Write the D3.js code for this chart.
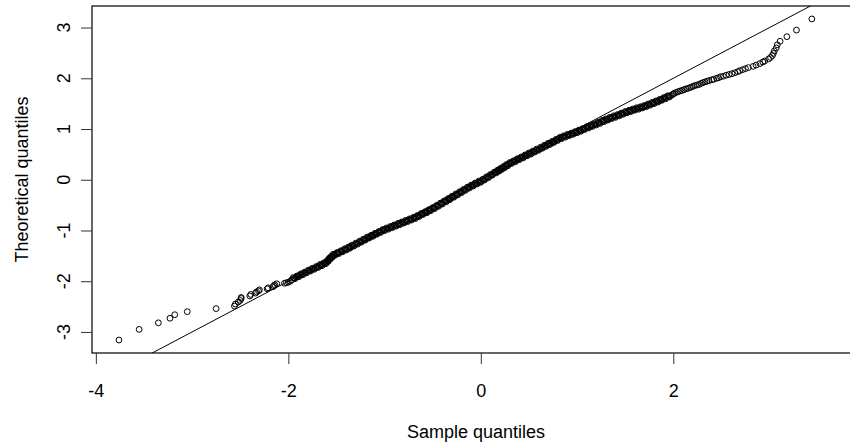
<!DOCTYPE html>
<html>
<head>
<meta charset="utf-8">
<script src="https://cdn.jsdelivr.net/npm/d3@7"></script>
<style>
  body { margin: 0; background: #fff; }
  text { font-family: "Liberation Sans", Arial, sans-serif; }
</style>
</head>
<body>
<div id="main"></div>
<script>
// tick labels
var xTicks = [-4, -2, 0, 2];
var yTicks = [-3, -2, -1, 0, 1, 2, 3];

// [sample quantile, theoretical quantile]
var lowerTail = [
  [-3.76,-3.16],[-3.55,-2.95],[-3.35,-2.82],[-3.23,-2.73],[-3.18,-2.66],[-3.05,-2.60],
  [-2.75,-2.54],[-2.56,-2.49],[-2.55,-2.45],[-2.52,-2.41],[-2.50,-2.38],[-2.49,-2.34],
  [-2.49,-2.32],[-2.40,-2.29],[-2.39,-2.26],[-2.34,-2.235],[-2.33,-2.21],[-2.31,-2.19],
  [-2.30,-2.17],[-2.22,-2.15],[-2.21,-2.13],[-2.16,-2.11],[-2.15,-2.09],[-2.14,-2.07],
  [-2.12,-2.05],[-2.04,-2.04],[-2.02,-2.03],[-2.00,-2.02],[-1.98,-2.00],[-1.965,-1.975]
];

// dense middle part, two interleaved runs of points
var bodyA = [
  [-1.94,-1.94],[-1.92,-1.92],[-1.90,-1.905],[-1.88,-1.88],[-1.86,-1.865],[-1.84,-1.845],
  [-1.82,-1.83],[-1.80,-1.805],[-1.78,-1.79],[-1.76,-1.77],[-1.74,-1.755],[-1.72,-1.735],
  [-1.70,-1.72],[-1.68,-1.70],[-1.66,-1.68],[-1.64,-1.665],[-1.62,-1.645],[-1.60,-1.625],
  [-1.59,-1.60],[-1.58,-1.578],[-1.57,-1.555],[-1.56,-1.537],[-1.55,-1.52],[-1.54,-1.50],
  [-1.525,-1.48],[-1.505,-1.46],[-1.485,-1.445],[-1.465,-1.425],[-1.445,-1.41],[-1.425,-1.39],
  [-1.405,-1.37],[-1.385,-1.355],[-1.365,-1.335],[-1.35,-1.32],[-1.33,-1.30],[-1.31,-1.28],
  [-1.29,-1.26],[-1.27,-1.24],[-1.25,-1.22],[-1.23,-1.20],[-1.21,-1.18],[-1.19,-1.16],
  [-1.17,-1.14],[-1.15,-1.12],[-1.13,-1.105],[-1.11,-1.085],[-1.09,-1.065],[-1.07,-1.045],
  [-1.05,-1.03],[-1.03,-1.01],[-1.01,-0.99],[-0.99,-0.978],[-0.97,-0.962],[-0.95,-0.948],
  [-0.93,-0.932],[-0.91,-0.918],[-0.89,-0.902],[-0.87,-0.888],[-0.85,-0.872],[-0.83,-0.858],
  [-0.81,-0.842],[-0.79,-0.828],[-0.77,-0.812],[-0.75,-0.798],[-0.73,-0.782],[-0.71,-0.768],
  [-0.69,-0.752],[-0.67,-0.735],[-0.65,-0.715],[-0.63,-0.695],[-0.61,-0.675],[-0.59,-0.657],
  [-0.57,-0.64],[-0.55,-0.62],[-0.53,-0.60],[-0.51,-0.58],[-0.49,-0.56],[-0.47,-0.538],
  [-0.45,-0.515],[-0.43,-0.493],[-0.41,-0.47],[-0.39,-0.448],[-0.37,-0.425],[-0.35,-0.403],
  [-0.33,-0.38],[-0.31,-0.358],[-0.29,-0.335],[-0.27,-0.313],[-0.25,-0.29],[-0.23,-0.268],
  [-0.21,-0.245],[-0.19,-0.222],[-0.17,-0.20],[-0.15,-0.178],[-0.13,-0.155],[-0.11,-0.135],
  [-0.09,-0.115],[-0.07,-0.095],[-0.05,-0.075],[-0.03,-0.055],[-0.01,-0.038],[0.01,-0.02],
  [0.03,0.003],[0.05,0.028],[0.07,0.05],[0.09,0.073],[0.11,0.098],[0.13,0.12],
  [0.15,0.143],[0.168,0.163],[0.183,0.18],[0.198,0.198],[0.213,0.215],[0.228,0.232],
  [0.243,0.25],[0.258,0.27],[0.273,0.288],[0.29,0.307],[0.31,0.33],[0.33,0.348],
  [0.35,0.365],[0.37,0.385],[0.39,0.405],[0.41,0.423],[0.43,0.44],[0.45,0.46],
  [0.47,0.48],[0.49,0.50],[0.51,0.518],[0.53,0.535],[0.55,0.555],[0.57,0.575],
  [0.59,0.593],[0.61,0.61],[0.63,0.63],[0.65,0.65],[0.67,0.67],[0.69,0.69],
  [0.71,0.708],[0.73,0.725],[0.75,0.745],[0.77,0.765],[0.79,0.785],[0.81,0.805],
  [0.83,0.823],[0.85,0.838],[0.87,0.853],[0.89,0.868],[0.91,0.883],[0.93,0.895],
  [0.95,0.908],[0.97,0.923],[0.99,0.938],[1.01,0.953],[1.03,0.968],[1.05,0.983],
  [1.07,1.00],[1.09,1.018],[1.11,1.033],[1.13,1.048],[1.15,1.063],[1.17,1.078],
  [1.19,1.093],[1.21,1.108],[1.23,1.123],[1.25,1.14],[1.27,1.158],[1.29,1.173],
  [1.31,1.188],[1.33,1.203],[1.35,1.218],[1.37,1.233],[1.39,1.245],[1.41,1.258],
  [1.43,1.273],[1.45,1.288],[1.47,1.303],[1.49,1.318],[1.51,1.333],[1.53,1.345],
  [1.55,1.358],[1.57,1.37],[1.59,1.383],[1.61,1.395],[1.63,1.405],[1.65,1.415],
  [1.67,1.428],[1.69,1.44],[1.71,1.453],[1.73,1.468],[1.75,1.483],[1.77,1.498],
  [1.79,1.513],[1.81,1.528],[1.83,1.543],[1.85,1.558],[1.87,1.575],[1.89,1.593],
  [1.91,1.608],[1.93,1.625],[1.95,1.643],[1.97,1.66]
];

var bodyB = [
  [-1.95,-1.93],[-1.93,-1.95],[-1.91,-1.895],[-1.89,-1.91],[-1.87,-1.855],[-1.85,-1.875],
  [-1.83,-1.82],[-1.81,-1.835],[-1.79,-1.78],[-1.77,-1.80],[-1.75,-1.745],[-1.73,-1.765],
  [-1.71,-1.71],[-1.69,-1.73],[-1.67,-1.67],[-1.65,-1.695],[-1.63,-1.635],[-1.61,-1.655],
  [-1.595,-1.59],[-1.585,-1.61],[-1.575,-1.545],[-1.565,-1.565],[-1.555,-1.51],[-1.545,-1.53],
  [-1.535,-1.47],[-1.515,-1.49],[-1.495,-1.435],[-1.475,-1.455],[-1.455,-1.40],[-1.435,-1.42],
  [-1.415,-1.36],[-1.395,-1.385],[-1.375,-1.325],[-1.36,-1.35],[-1.34,-1.29],[-1.32,-1.31],
  [-1.30,-1.25],[-1.28,-1.27],[-1.26,-1.21],[-1.24,-1.23],[-1.22,-1.17],[-1.20,-1.19],
  [-1.18,-1.13],[-1.16,-1.15],[-1.14,-1.095],[-1.12,-1.115],[-1.10,-1.055],[-1.08,-1.075],
  [-1.06,-1.02],[-1.04,-1.04],[-1.02,-0.98],[-1.00,-1.005],[-0.98,-0.95],[-0.96,-0.975],
  [-0.94,-0.92],[-0.92,-0.945],[-0.90,-0.89],[-0.88,-0.915],[-0.86,-0.86],[-0.84,-0.885],
  [-0.82,-0.83],[-0.80,-0.855],[-0.78,-0.80],[-0.76,-0.825],[-0.74,-0.77],[-0.72,-0.795],
  [-0.70,-0.74],[-0.68,-0.765],[-0.66,-0.705],[-0.64,-0.725],[-0.62,-0.665],[-0.60,-0.685],
  [-0.58,-0.63],[-0.56,-0.65],[-0.54,-0.59],[-0.52,-0.61],[-0.50,-0.55],[-0.48,-0.57],
  [-0.46,-0.505],[-0.44,-0.525],[-0.42,-0.46],[-0.40,-0.48],[-0.38,-0.415],[-0.36,-0.435],
  [-0.34,-0.37],[-0.32,-0.39],[-0.30,-0.325],[-0.28,-0.345],[-0.26,-0.28],[-0.24,-0.30],
  [-0.22,-0.235],[-0.20,-0.255],[-0.18,-0.19],[-0.16,-0.21],[-0.14,-0.145],[-0.12,-0.165],
  [-0.10,-0.105],[-0.08,-0.125],[-0.06,-0.065],[-0.04,-0.085],[-0.02,-0.025],[0.00,-0.05],
  [0.02,0.01],[0.04,-0.005],[0.06,0.06],[0.08,0.04],[0.10,0.105],[0.12,0.09],
  [0.14,0.15],[0.16,0.135],[0.175,0.19],[0.19,0.17],[0.205,0.225],[0.22,0.205],
  [0.235,0.26],[0.25,0.24],[0.265,0.30],[0.28,0.275],[0.30,0.34],[0.32,0.32],
  [0.34,0.375],[0.36,0.355],[0.38,0.415],[0.40,0.395],[0.42,0.45],[0.44,0.43],
  [0.46,0.49],[0.48,0.47],[0.50,0.53],[0.52,0.505],[0.54,0.565],[0.56,0.545],
  [0.58,0.605],[0.60,0.58],[0.62,0.64],[0.64,0.62],[0.66,0.68],[0.68,0.66],
  [0.70,0.72],[0.72,0.695],[0.74,0.755],[0.76,0.735],[0.78,0.795],[0.80,0.775],
  [0.82,0.835],[0.84,0.81],[0.86,0.865],[0.88,0.84],[0.90,0.895],[0.92,0.87],
  [0.94,0.92],[0.96,0.895],[0.98,0.95],[1.00,0.925],[1.02,0.98],[1.04,0.955],
  [1.06,1.01],[1.08,0.99],[1.10,1.045],[1.12,1.02],[1.14,1.075],[1.16,1.05],
  [1.18,1.105],[1.20,1.08],[1.22,1.135],[1.24,1.11],[1.26,1.17],[1.28,1.145],
  [1.30,1.20],[1.32,1.175],[1.34,1.23],[1.36,1.205],[1.38,1.26],[1.40,1.23],
  [1.42,1.285],[1.44,1.26],[1.46,1.315],[1.48,1.29],[1.50,1.345],[1.52,1.32],
  [1.54,1.37],[1.56,1.345],[1.58,1.395],[1.60,1.37],[1.62,1.42],[1.64,1.39],
  [1.66,1.44],[1.68,1.415],[1.70,1.465],[1.72,1.44],[1.74,1.495],[1.76,1.47],
  [1.78,1.525],[1.80,1.50],[1.82,1.555],[1.84,1.53],[1.86,1.585],[1.88,1.565],
  [1.90,1.62],[1.92,1.595],[1.94,1.655],[1.96,1.63]
];

var upperTail = [
  [1.99,1.675],[2.00,1.69],[2.01,1.705],[2.03,1.72],[2.05,1.735],[2.07,1.75],
  [2.09,1.76],[2.11,1.775],[2.13,1.79],[2.15,1.80],[2.17,1.815],[2.19,1.83],
  [2.21,1.845],[2.23,1.86],[2.25,1.87],[2.27,1.88],[2.29,1.90],[2.31,1.915],
  [2.33,1.93],[2.35,1.94],[2.37,1.955],[2.40,1.97],[2.42,1.98],[2.45,2.00],
  [2.47,2.01],[2.49,2.03],[2.52,2.04],[2.55,2.06],[2.58,2.075],[2.61,2.09],
  [2.64,2.11],[2.67,2.13],[2.69,2.15],[2.72,2.17],[2.75,2.19],[2.78,2.21],
  [2.83,2.235],[2.86,2.26],[2.90,2.29],[2.93,2.32],[2.95,2.34],[2.99,2.38],
  [3.01,2.41],[3.03,2.45],[3.04,2.49],[3.05,2.54],[3.07,2.60],[3.08,2.66],
  [3.11,2.73],[3.18,2.82],[3.28,2.95],[3.44,3.17]
];

// reference line y = a + b*x
var refLine = {a: 0, b: 1};

var points = lowerTail.concat(bodyA, bodyB, upperTail);

// size of the picture
var W = 850, H = 446;
var plot = {left: 92, right: 860, top: 6, bottom: 353};

var x = d3.scaleLinear().domain([-4.04, 3.94]).range([plot.left, plot.right]);
var y = d3.scaleLinear().domain([-3.415, 3.425]).range([plot.bottom, plot.top]);

var svg = d3.select("#main").append("svg")
    .attr("width", W)
    .attr("height", H);

svg.append("defs").append("clipPath").attr("id", "clip")
  .append("rect")
    .attr("x", plot.left).attr("y", plot.top)
    .attr("width", plot.right - plot.left)
    .attr("height", plot.bottom - plot.top);

var g = svg.append("g").attr("clip-path", "url(#clip)");

// qq line
var x0 = x.domain()[0], x1 = x.domain()[1];
g.append("line")
    .attr("x1", x(x0)).attr("y1", y(refLine.a + refLine.b * x0))
    .attr("x2", x(x1)).attr("y2", y(refLine.a + refLine.b * x1))
    .attr("stroke", "#000")
    .attr("stroke-width", 1);

// points
g.selectAll("circle")
  .data(points)
  .enter().append("circle")
    .attr("cx", function(d) { return x(d[0]); })
    .attr("cy", function(d) { return y(d[1]); })
    .attr("r", 2.9)
    .attr("fill", "none")
    .attr("stroke", "#000")
    .attr("stroke-width", 1);

// box
svg.append("rect")
    .attr("x", plot.left).attr("y", plot.top)
    .attr("width", plot.right - plot.left)
    .attr("height", plot.bottom - plot.top)
    .attr("fill", "none")
    .attr("stroke", "#000")
    .attr("stroke-width", 1.2);

// x axis
var xAxis = svg.append("g")
    .attr("transform", "translate(0," + plot.bottom + ")")
    .call(d3.axisBottom(x).tickValues(xTicks).tickSize(11).tickPadding(20)
      .tickFormat(function(d) { return String(d); }));
xAxis.select(".domain").remove();
xAxis.selectAll("line").attr("stroke", "#333");
xAxis.selectAll("text")
    .attr("font-size", 18)
    .attr("font-family", "Liberation Sans, Arial, sans-serif")
    .attr("fill", "#000");

// y axis, labels parallel to the axis
var yAxis = svg.append("g")
    .attr("transform", "translate(" + plot.left + ",0)")
    .call(d3.axisLeft(y).tickValues(yTicks).tickSize(11).tickFormat(""));
yAxis.select(".domain").remove();
yAxis.selectAll("line").attr("stroke", "#333");

svg.append("g").selectAll("text")
  .data(yTicks)
  .enter().append("text")
    .attr("transform", function(d) { return "translate(" + (plot.left - 22) + "," + y(d) + ") rotate(-90)"; })
    .attr("text-anchor", "middle")
    .attr("font-size", 18)
    .text(function(d) { return String(d); });

// axis titles
svg.append("text")
    .attr("x", (plot.left + plot.right) / 2)
    .attr("y", 438)
    .attr("text-anchor", "middle")
    .attr("font-size", 18)
    .text("Sample quantiles");

svg.append("text")
    .attr("transform", "translate(28," + (plot.top + plot.bottom) / 2 + ") rotate(-90)")
    .attr("text-anchor", "middle")
    .attr("font-size", 18)
    .text("Theoretical quantiles");
</script>
</body>
</html>
